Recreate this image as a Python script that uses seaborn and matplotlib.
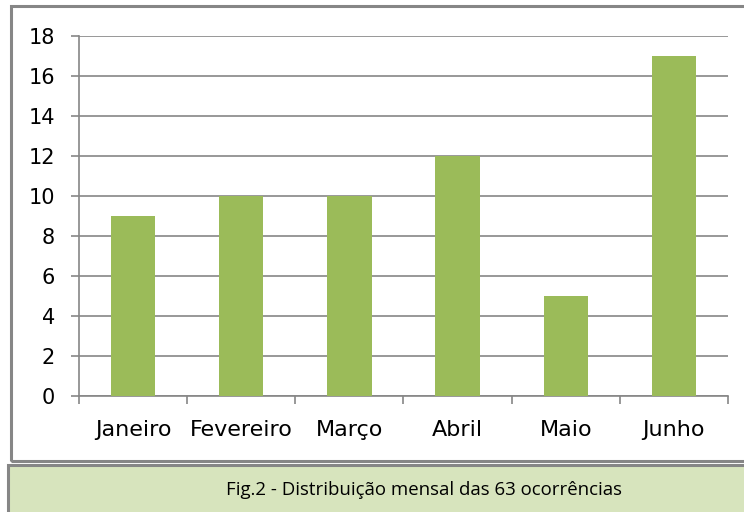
import matplotlib
matplotlib.use("Agg")
import matplotlib.pyplot as plt
import seaborn as sns
import pandas as pd
from matplotlib.patches import Rectangle

meses = ["Janeiro", "Fevereiro", "Março", "Abril", "Maio", "Junho"]
ocorrencias = [9, 10, 10, 12, 5, 17]
y_ticks = [0, 2, 4, 6, 8, 10, 12, 14, 16, 18]
legenda = "Fig.2 - Distribuição mensal das 63 ocorrências"

cinza = "#868686"
verde = "#9bbb59"

sns.set_theme(style="white")
plt.rcParams["font.family"] = ["DejaVu Sans"]

df = pd.DataFrame({"mes": meses, "n": ocorrencias})

fig = plt.figure(figsize=(7.44, 5.12), dpi=100)
W, H = 744, 512

# moldura do gráfico e caixa da legenda (coordenadas em pixels da figura)
fig.patches.append(Rectangle((11 / W, 1 - 461 / H), 740 / W, 455 / H,
                             transform=fig.transFigure, fill=False,
                             edgecolor=cinza, linewidth=2.2, zorder=0))
fig.patches.append(Rectangle((8 / W, -0.02), 745 / W, (0.02 + 47 / H),
                             transform=fig.transFigure, facecolor="#d7e4bd",
                             edgecolor=cinza, linewidth=2.2, zorder=0))

ax = fig.add_axes([79 / W, 1 - 396 / H, (728 - 79) / W, (396 - 36) / H])
ax.set_zorder(2)
sns.barplot(data=df, x="mes", y="n", color=verde, width=0.41,
            saturation=1, linewidth=0, edgecolor=verde, ax=ax, zorder=3)

ax.set_ylim(0, 18)
ax.set_xlim(-0.5, len(meses) - 0.5)
ax.set_yticks(y_ticks)
ax.set_yticklabels([str(v) for v in y_ticks], fontsize=15, color="black")
ax.yaxis.grid(True, color=cinza, linewidth=1.2)
ax.set_axisbelow(True)
ax.set_xlabel("")
ax.set_ylabel("")

# marcas do eixo x entre as categorias
ax.set_xticks([i - 0.5 for i in range(len(meses) + 1)], minor=False)
ax.set_xticklabels([""] * (len(meses) + 1))
ax.set_xticks(range(len(meses)), minor=True)
ax.set_xticklabels(meses, minor=True, fontsize=16, color="black")
ax.tick_params(axis="x", which="minor", length=0, pad=17)
ax.tick_params(axis="x", which="major", length=5.8, width=1.2, color=cinza,
               direction="out", bottom=True)
ax.tick_params(axis="y", length=5.8, width=1.2, color=cinza, direction="out",
               left=True, pad=11.5)

for s in ["top", "right"]:
    ax.spines[s].set_visible(False)
for s in ["left", "bottom"]:
    ax.spines[s].set_color(cinza)
    ax.spines[s].set_linewidth(1.2)
ax.patch.set_alpha(0)

fig.text(424 / W, 1 - 490 / H, legenda, ha="center", va="center",
         fontsize=13.4, family=["Open Sans", "DejaVu Sans"], color="black")

fig.savefig("out.png", dpi=100)
